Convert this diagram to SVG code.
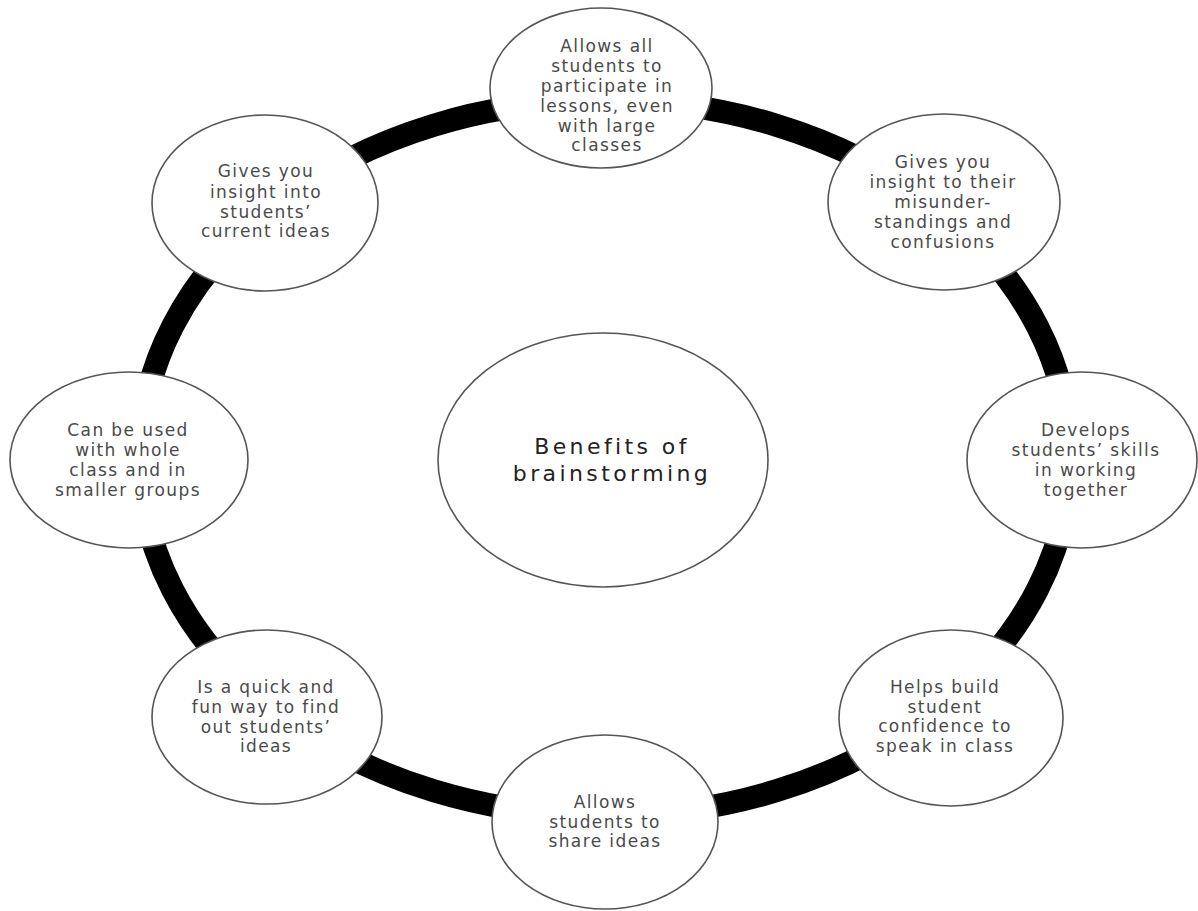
<svg xmlns="http://www.w3.org/2000/svg" width="1198" height="911" viewBox="0 0 1198 911">
<style>
.n{fill:#fff;stroke:#555;stroke-width:1.6}
.t{font-family:"DejaVu Sans",sans-serif;font-size:17px;letter-spacing:1.4px;fill:#4a4a4a;text-anchor:middle}
.c{font-family:"DejaVu Sans",sans-serif;font-size:22px;letter-spacing:3.4px;fill:#222;text-anchor:middle}
</style>
<rect width="1198" height="911" fill="#fff"/>
<g id="connectors">
<ellipse cx="605" cy="458" rx="465" ry="358" fill="none" stroke="#000" stroke-width="23"/>
</g>
<g id="center">
<ellipse class="n" cx="603" cy="460" rx="165" ry="127"/>
<text class="c" x="612" y="454">Benefits of</text>
<text class="c" x="612" y="481">brainstorming</text>
</g>
<g id="n1">
<ellipse class="n" cx="601" cy="88" rx="111" ry="80"/>
<text class="t" x="607" y="52">Allows all</text>
<text class="t" x="607" y="72">students to</text>
<text class="t" x="607" y="92">participate in</text>
<text class="t" x="607" y="112">lessons, even</text>
<text class="t" x="607" y="132">with large</text>
<text class="t" x="607" y="151">classes</text>
</g>
<g id="n2">
<ellipse class="n" cx="944" cy="202" rx="116" ry="88"/>
<text class="t" x="943" y="168">Gives you</text>
<text class="t" x="943" y="188">insight to their</text>
<text class="t" x="943" y="208">misunder-</text>
<text class="t" x="943" y="228">standings and</text>
<text class="t" x="943" y="248">confusions</text>
</g>
<g id="n3">
<ellipse class="n" cx="1082" cy="460" rx="115" ry="88"/>
<text class="t" x="1086" y="436">Develops</text>
<text class="t" x="1086" y="456">students’ skills</text>
<text class="t" x="1086" y="476">in working</text>
<text class="t" x="1086" y="496">together</text>
</g>
<g id="n4">
<ellipse class="n" cx="951" cy="718" rx="112" ry="88"/>
<text class="t" x="945" y="693">Helps build</text>
<text class="t" x="945" y="713">student</text>
<text class="t" x="945" y="732">confidence to</text>
<text class="t" x="945" y="752">speak in class</text>
</g>
<g id="n5">
<ellipse class="n" cx="605" cy="822" rx="113" ry="87"/>
<text class="t" x="605" y="808">Allows</text>
<text class="t" x="605" y="828">students to</text>
<text class="t" x="605" y="847">share ideas</text>
</g>
<g id="n6">
<ellipse class="n" cx="267" cy="717" rx="115" ry="87"/>
<text class="t" x="266" y="693">Is a quick and</text>
<text class="t" x="266" y="713">fun way to find</text>
<text class="t" x="266" y="733">out students’</text>
<text class="t" x="266" y="752">ideas</text>
</g>
<g id="n7">
<ellipse class="n" cx="129" cy="460" rx="119" ry="88"/>
<text class="t" x="128" y="436">Can be used</text>
<text class="t" x="128" y="456">with whole</text>
<text class="t" x="128" y="476">class and in</text>
<text class="t" x="128" y="496">smaller groups</text>
</g>
<g id="n8">
<ellipse class="n" cx="265" cy="203" rx="113" ry="88"/>
<text class="t" x="266" y="177">Gives you</text>
<text class="t" x="266" y="198">insight into</text>
<text class="t" x="266" y="218">students’</text>
<text class="t" x="266" y="237">current ideas</text>
</g>
</svg>
